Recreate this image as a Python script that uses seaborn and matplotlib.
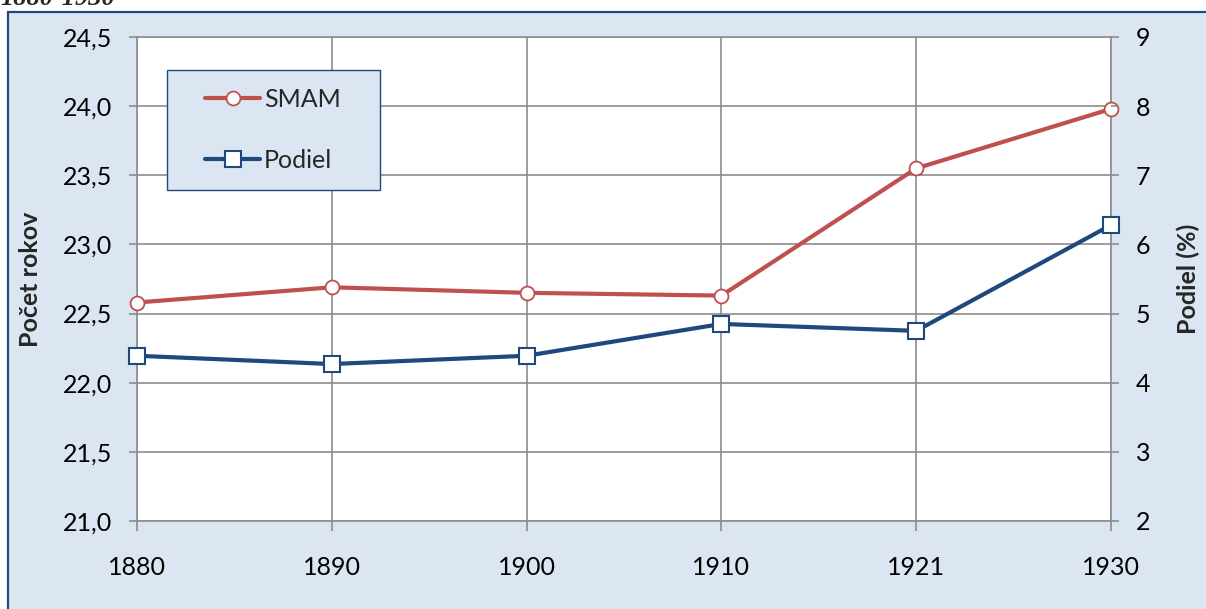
import numpy as np
import pandas as pd
import seaborn as sns
import matplotlib.pyplot as plt
from matplotlib.patches import Rectangle
from matplotlib.ticker import FuncFormatter, MultipleLocator

# data
years = ["1880", "1890", "1900", "1910", "1921", "1930"]
smam = [22.58, 22.69, 22.65, 22.63, 23.55, 23.98]
podiel = [4.39, 4.27, 4.39, 4.85, 4.75, 6.28]

BG = "#dce6f2"
RED = "#c0504d"
BLUE = "#1f497d"
GRID = "#8c8c8c"
W, H = 1206, 609
FS = 18

sns.set_theme(style="white")
plt.rcParams["font.family"] = ["Lato", "DejaVu Sans"]

df = pd.DataFrame({"pos": np.arange(len(years)), "SMAM": smam, "Podiel": podiel})

fig = plt.figure(figsize=(W / 100, H / 100), dpi=100, facecolor="white")

# light blue chart area with dark border (cut off at right/bottom)
fig.add_artist(Rectangle((8 / W, -0.1), 1.2, 1.1 - 12 / H, transform=fig.transFigure,
                         facecolor=BG, edgecolor=BLUE, linewidth=1.6, zorder=-1))

# cut-off caption at the very top
fig.text(0.0, 1 - 5 / H, "1880-1930", fontfamily="Liberation Serif", style="italic",
         fontweight="bold", fontsize=19, va="baseline", ha="left")

ax = fig.add_axes([137 / W, 1 - 521 / H, (1111 - 137) / W, (521 - 37) / H])
ax.set_facecolor("white")
ax2 = ax.twinx()

sns.lineplot(data=df, x="pos", y="SMAM", ax=ax, color=RED, linewidth=3.0,
             marker="o", markersize=10, markerfacecolor="white",
             markeredgecolor=RED, markeredgewidth=1.3, clip_on=False, zorder=3)
sns.lineplot(data=df, x="pos", y="Podiel", ax=ax2, color=BLUE, linewidth=3.0,
             marker="s", markersize=11, markerfacecolor="white",
             markeredgecolor=BLUE, markeredgewidth=1.5, clip_on=False, zorder=3)

ax.set_xlim(0, len(years) - 1)
ax2.set_xlim(0, len(years) - 1)
ax.set_ylim(21, 24.5)
ax2.set_ylim(2, 9)

ax.set_xticks(df["pos"])
ax.set_xticklabels(years)
ax.yaxis.set_major_locator(MultipleLocator(0.5))
ax.yaxis.set_major_formatter(FuncFormatter(lambda v, p: f"{v:.1f}".replace(".", ",")))
ax2.yaxis.set_major_locator(MultipleLocator(1))

ax.grid(True, color=GRID, linewidth=1.2)
ax.set_axisbelow(True)
for s in ax.spines.values():
    s.set_color(GRID)
    s.set_linewidth(1.2)
for s in ax2.spines.values():
    s.set_visible(False)

ax.tick_params(axis="y", left=True, direction="out", length=6, width=1.2,
               color=GRID, pad=12, labelsize=FS, labelcolor="black")
ax.tick_params(axis="x", bottom=True, direction="out", length=7, width=1.2,
               color=GRID, pad=18, labelsize=FS, labelcolor="black")
ax2.tick_params(axis="y", right=True, direction="out", length=6, width=1.2,
                color=GRID, pad=12, labelsize=FS, labelcolor="black")

ax.set_xlabel("")
ax2.set_xlabel("")
ax.set_ylabel("Počet rokov", fontsize=FS, fontweight="bold")
ax.yaxis.set_label_coords((42 - 137) / 974, 0.5)
ax2.set_ylabel("Podiel (%)", fontsize=FS, fontweight="bold")
ax2.yaxis.set_label_coords((1177 - 137) / 974, 0.5)

# legend box
fig.add_artist(Rectangle((167 / W, 1 - 190 / H), 213 / W, 120 / H, transform=fig.transFigure,
                         facecolor=BG, edgecolor=BLUE, linewidth=1.0, zorder=5))
leg = fig.legend([ax.get_lines()[0], ax2.get_lines()[0]], ["SMAM", "Podiel"],
                 loc="upper left", bbox_to_anchor=(205 / W, 1 - 88 / H),
                 frameon=False, fontsize=FS, handlelength=2.2, handletextpad=0.15,
                 labelspacing=1.5, borderpad=0, borderaxespad=0)
leg.set_zorder(6)

fig.savefig("out.png", dpi=100, facecolor=fig.get_facecolor())
